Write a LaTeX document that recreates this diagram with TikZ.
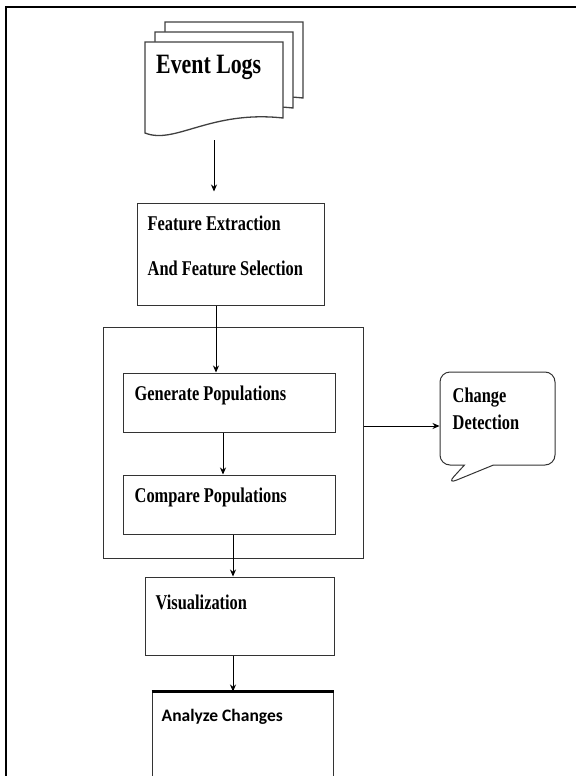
\documentclass[tikz,border=0pt]{standalone}
\usepackage{fontspec}
\usetikzlibrary{arrows.meta,shapes.callouts}
\newfontfamily\narrowserif[FakeStretch=0.78]{Liberation Serif}
\newfontfamily\calibrifont{Carlito}

\tikzstyle{procbox} = [draw=black!80,line width=1pt,rectangle,inner sep=0pt]
\tikzstyle{boxtext} = [anchor=north west,inner sep=0pt,align=left,font=\narrowserif\bfseries\fontsize{21}{25}\selectfont]
\tikzstyle{docline} = [draw=black!75,line width=1.3pt,fill=white]
\tikzstyle{arrowdecorate} = [->,>={Stealth[length=7pt,width=6pt]},line width=0.8pt]

\begin{document}
\begin{tikzpicture}[x=1pt,y=-1pt]
    \useasboundingbox (0,0) rectangle (577,776);
    % frame
    \draw[line width=2.6pt] (6,776) -- (6,7) -- (576,7);
    % event logs (stacked documents)
    \foreach \d in {20,10,0}
    {
        \draw[docline,shift={(\d,-\d)}] (145,133) -- (145,42) -- (283,42) -- (283,118)
            .. controls (210,110) and (175,145) .. (145,133) -- cycle;
    };
    \node[boxtext,font=\narrowserif\bfseries\fontsize{28}{32}\selectfont] at (156,55) {Event Logs};
    \coordinate (logsend) at (214,140);
    % boxes
    \foreach \nodename/\x/\y/\w/\h in {
      feat/230.5/254/187/102,
      cont/233/442.5/260/231,
      gen/229/402.5/212/59,
      comp/229/504.5/212/59,
      vis/239.5/616/189/78,
      ana/242.5/740/181/96}
    {
        \node[procbox,minimum width=\w pt,minimum height=\h pt] (\nodename) at (\x,\y) {};
    };
    \draw[line width=2.4pt] (ana.north west) -- (ana.north east);
    \node[draw=black!80,line width=1pt,rectangle callout,rounded corners=10pt,
          minimum width=115pt,minimum height=93pt,inner sep=0pt,
          callout absolute pointer={(447,484)},callout pointer width=29pt] (detect) at (497.5,418.5) {};
    % texts
    \foreach \nodename/\dx/\dy/\txt in {
      feat/11/13/{Feature Extraction\\[20pt]And Feature Selection},
      gen/12/13/{Generate Populations},
      comp/12/13/{Compare Populations},
      vis/11/18/{Visualization},
      detect/13/16/{Change\\[2pt]Detection}}
    {
        \node[boxtext] at ([xshift=\dx pt,yshift=-\dy pt]\nodename.north west) {\txt};
    };
    \node[boxtext,font=\calibrifont\bfseries\fontsize{17.5}{21}\selectfont] at ([xshift=10pt,yshift=-18pt]ana.north west) {Analyze Changes};
    % arrows
    \coordinate (featin) at ([yshift=11pt]feat.north);
    \coordinate (tap) at ([yshift=16.5pt]cont.east);
    \draw[arrowdecorate] (logsend) -- (logsend |- featin);
    \draw[arrowdecorate] (feat.south -| 216,0) -- (gen.north -| 216,0);
    \draw[arrowdecorate] (gen.south -| 223,0) -- (comp.north -| 223,0);
    \draw[arrowdecorate] (comp.south -| 233,0) -- (vis.north -| 233,0);
    \draw[arrowdecorate] (vis.south -| 233,0) -- (ana.north -| 233,0);
    \draw[arrowdecorate] (tap) -- (tap -| detect.west);
\end{tikzpicture}
\end{document}
